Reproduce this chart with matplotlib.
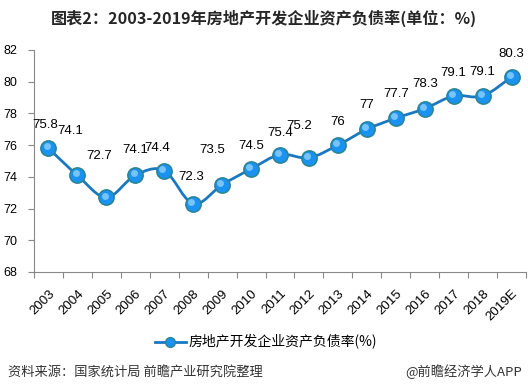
import matplotlib
matplotlib.use("Agg")
import matplotlib.pyplot as plt
from matplotlib.path import Path
from matplotlib.patches import PathPatch
from matplotlib.lines import Line2D
import matplotlib.transforms as mtransforms
import numpy as np

years = ["2003", "2004", "2005", "2006", "2007", "2008", "2009", "2010", "2011",
         "2012", "2013", "2014", "2015", "2016", "2017", "2018", "2019E"]
values = [75.8, 74.1, 72.7, 74.1, 74.4, 72.3, 73.5, 74.5, 75.4,
          75.2, 76, 77, 77.7, 78.3, 79.1, 79.1, 80.3]
value_labels = ["75.8", "74.1", "72.7", "74.1", "74.4", "72.3", "73.5", "74.5", "75.4",
                "75.2", "76", "77", "77.7", "78.3", "79.1", "79.1", "80.3"]
# label offsets in pixels (style)
label_dx = [-3, -7, -7, 0, -7, -2, -10, 0, 0, -10, 0, 0, 0, 0, 0, 0, 0]
label_dy = [23, 44, 41, 25, 23, 27, 35, 23, 22, 32, 23, 24, 24, 25, 23, 24, 23]

series_name = "房地产开发企业资产负债率(%)"
title = "图表2：2003-2019年房地产开发企业资产负债率(单位：%)"
source = "资料来源：国家统计局 前瞻产业研究院整理"
credit = "@前瞻经济学人APP"

cjk = ["Noto Sans CJK SC", "DejaVu Sans"]
latin = ["Liberation Sans", "DejaVu Sans"]

fig = plt.figure(figsize=(5.28, 3.92), dpi=100)
ax = fig.add_axes([34 / 528, 1 - 272 / 392, 492 / 528, 222 / 392])

x = np.arange(len(values))
y = np.array(values, dtype=float)

line_color = "#1a78c2"
# smooth line via cubic Bezier segments (Excel-style smoothing)
verts = [(x[0], y[0])]
codes = [Path.MOVETO]
n = len(x)
for i in range(n - 1):
    p0 = np.array([x[max(i - 1, 0)], y[max(i - 1, 0)]])
    p1 = np.array([x[i], y[i]])
    p2 = np.array([x[i + 1], y[i + 1]])
    p3 = np.array([x[min(i + 2, n - 1)], y[min(i + 2, n - 1)]])
    c1 = p1 + (p2 - p0) / 6.0
    c2 = p2 - (p3 - p1) / 6.0
    verts += [tuple(c1), tuple(c2), tuple(p2)]
    codes += [Path.CURVE4, Path.CURVE4, Path.CURVE4]
ax.add_patch(PathPatch(Path(verts, codes), facecolor="none", edgecolor=line_color,
                       lw=2.0, zorder=2, capstyle="round"))

ax.plot(x, y, linestyle="none", marker="o", markersize=11,
        markerfacecolor="#1a92f2", markeredgecolor="#2a8490", markeredgewidth=1.1, zorder=3)
# highlight
ax.plot(x - 0.06, y + 0.12, linestyle="none", marker="o", markersize=5,
        markerfacecolor="#8fd0ff", markeredgecolor="none", alpha=0.8, zorder=4)

for xi, yi, lab, dx, dy in zip(x, y, value_labels, label_dx, label_dy):
    ax.annotate(lab, (xi, yi), xytext=(dx, dy), textcoords="offset pixels",
                ha="center", va="center", fontsize=9.5, family=latin, color="#000000")

ax.set_xlim(-0.5, len(values) - 0.5)
ax.set_ylim(68, 82)
ax.set_yticks([68, 70, 72, 74, 76, 78, 80, 82])
ax.set_xticks(x)
ax.set_xticklabels(years, rotation=45, ha="right", va="top", rotation_mode="anchor",
                   fontsize=9.5, family=latin)
shift = mtransforms.ScaledTranslation(5 / 100, 0, fig.dpi_scale_trans)
for lab in ax.get_xticklabels():
    lab.set_transform(lab.get_transform() + shift)
ax.set_xticks(np.arange(-0.5, len(values), 1.0), minor=True)
ax.tick_params(axis="x", which="major", length=0, pad=11)
ax.tick_params(axis="x", which="minor", length=4, color="#888888", width=0.8)
ax.tick_params(axis="y", length=4, color="#888888", width=0.8, labelsize=9, pad=8)
for lab in ax.get_yticklabels():
    lab.set_family(latin)
for s in ["top", "right"]:
    ax.spines[s].set_visible(False)
for s in ["left", "bottom"]:
    ax.spines[s].set_color("#888888")
    ax.spines[s].set_linewidth(0.8)

fig.text(0.5, 1 - 18 / 392, title, ha="center", va="center", fontsize=11.6,
         fontweight="bold", family=cjk, color="#262626")

handle = Line2D([0], [0], color=line_color, lw=2.0, marker="o", markersize=7,
                markerfacecolor="#1a92f2", markeredgecolor="#2a8490")
fig.legend([handle], [series_name], loc="center", bbox_to_anchor=(266 / 528, 1 - 342 / 392),
           frameon=False, prop={"family": cjk, "size": 10}, handlelength=2.2,
           handletextpad=0.2)

fig.text(8 / 528, 1 - 372 / 392, source, ha="left", va="center", fontsize=9.5,
         family=cjk, color="#333333")
fig.text(522 / 528, 1 - 372 / 392, credit, ha="right", va="center", fontsize=9.5,
         family=cjk, color="#333333")

fig.savefig("out.png", dpi=100)
